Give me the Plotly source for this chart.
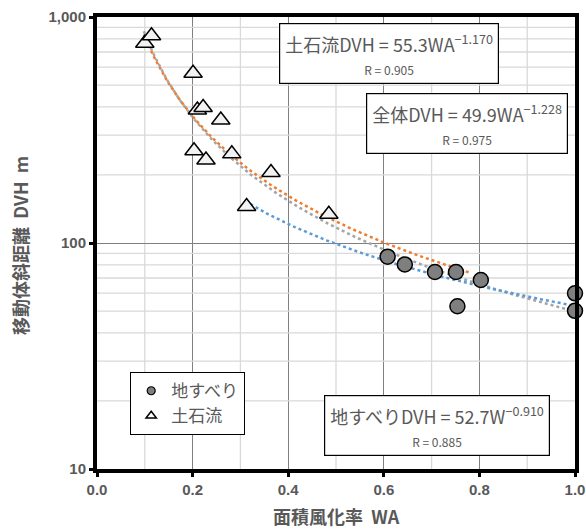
import numpy as np
import plotly.graph_objects as go

# ---- data ----
landslide_x = [0.608, 0.644, 0.707, 0.751, 0.803, 0.754, 1.0, 1.0]
landslide_y = [87.0, 80.4, 74.4, 74.4, 68.6, 52.5, 59.9, 50.1]

debris_x = [0.100, 0.114, 0.201, 0.210, 0.222, 0.259, 0.203, 0.228, 0.282, 0.364, 0.313, 0.485]
debris_y = [765, 826, 564, 388, 398, 350, 256, 233, 248, 205, 145, 134]

# trend line coefficients (from equations shown in chart): a, b, x_start, x_end
fit_debris = (55.3, -1.170, 0.098, 0.78)
fit_all = (49.9, -1.228, 0.098, 1.0)
fit_land = (52.7, -0.910, 0.31, 1.0)

x_ticks = [0.0, 0.2, 0.4, 0.6, 0.8, 1.0]
x_tick_labels = ["0.0", "0.2", "0.4", "0.6", "0.8", "1.0"]
x_minor = [0.1, 0.3, 0.5, 0.7, 0.9]
y_ticks = [10, 100, 1000]
y_tick_labels = ["10", "100", "1,000"]
y_minor = [m * d for d in (10, 100) for m in range(2, 10)]

TXT = "#595959"
FONT = "Liberation Sans, Arial, Noto Sans CJK JP"
JFONT = "Noto Sans CJK JP, Liberation Sans"

fig = go.Figure()

# minor grid (y, log) as a line trace
gx, gy = [], []
for v in y_minor:
    gx += [0, 1, None]
    gy += [v, v, None]
fig.add_trace(go.Scatter(x=gx, y=gy, mode="lines", line=dict(color="#D9D9D9", width=1.3),
                         showlegend=False, hoverinfo="skip"))
for v in x_minor:
    fig.add_shape(type="line", xref="x", yref="paper", x0=v, x1=v, y0=0, y1=1,
                  line=dict(color="#D9D9D9", width=1.3), layer="below")


def trend(c, color):
    a, b, x0, x1 = c
    xs = np.linspace(x0, x1, 200)
    fig.add_trace(go.Scatter(x=xs, y=a * xs ** b, mode="lines",
                             line=dict(color=color, width=2.5, dash="dot"),
                             showlegend=False, hoverinfo="skip"))


trend(fit_all, "#A5A5A5")
trend(fit_debris, "#ED7D31")
trend(fit_land, "#5B9BD5")

fig.add_trace(go.Scatter(x=landslide_x, y=landslide_y, mode="markers", name="地すべり",
                         marker=dict(symbol="circle", size=15, color="#7F7F7F",
                                     line=dict(color="black", width=1.5)),
                         cliponaxis=False, showlegend=False))
fig.add_trace(go.Scatter(x=debris_x, y=debris_y, mode="markers", name="土石流",
                         marker=dict(symbol="triangle-up", size=16, color="#F2F2F2",
                                     line=dict(color="black", width=1.5)),
                         cliponaxis=False, showlegend=False))

# legend entries
fig.add_trace(go.Scatter(x=[None], y=[None], mode="markers", name="地すべり",
                         marker=dict(symbol="circle", size=8, color="#7F7F7F",
                                     line=dict(color="black", width=1.2))))
fig.add_trace(go.Scatter(x=[None], y=[None], mode="markers", name="土石流",
                         marker=dict(symbol="triangle-up", size=9, color="white",
                                     line=dict(color="black", width=1.5))))


# paper coords: plot area spans 97..575 px (x) and 469..17 px (y) on screen
def px(xp):
    return (xp - 97) / 478


def py(yp):
    return (469 - yp) / 452


def eq_box(x, y, main, r):
    fig.add_annotation(
        x=x, y=y, xref="paper", yref="paper", xanchor="center", yanchor="middle",
        text=f"<span style='font-size:18px'>{main}</span><br><span style='font-size:12px'>{r}</span>",
        showarrow=False, align="center", bgcolor="white", bordercolor="black",
        borderwidth=1.2, borderpad=5, font=dict(family=JFONT, color=TXT, size=18))


eq_box(px(389), py(54), "土石流DVH = 55.3WA<sup>−1.170</sup>", "R = 0.905")
eq_box(px(467), py(123), "全体DVH = 49.9WA<sup>−1.228</sup>", "R = 0.975")
eq_box(px(437), py(425), "地すべりDVH = 52.7W<sup>−0.910</sup>", "R = 0.885")

# axis titles
fig.add_annotation(x=px(20), y=py(246), xref="paper", yref="paper", textangle=-90,
                   text="移動体斜距離  DVH  m", showarrow=False,
                   xanchor="center", yanchor="middle",
                   font=dict(family=JFONT, size=18, color=TXT, weight="bold"))
fig.add_annotation(x=px(336), y=py(516), xref="paper", yref="paper",
                   text="面積風化率  WA", showarrow=False,
                   xanchor="center", yanchor="middle",
                   font=dict(family=JFONT, size=18, color=TXT, weight="bold"))

fig.update_layout(
    width=586, height=531,
    margin=dict(l=97, r=11, t=17, b=62),
    paper_bgcolor="white", plot_bgcolor="white",
    font=dict(family=FONT, color=TXT),
    legend=dict(x=px(130), y=py(372), xanchor="left", yanchor="top",
                bgcolor="white", bordercolor="black", borderwidth=1.2,
                font=dict(family=JFONT, size=17, color=TXT),
                itemwidth=30, tracegroupgap=0),
    xaxis=dict(range=[0, 1], tickvals=x_ticks, ticktext=x_tick_labels,
               showline=True, linecolor="black", linewidth=4, mirror=True,
               ticks="outside", ticklen=4, tickwidth=3, tickcolor="black",
               showgrid=True, gridcolor="#808080", gridwidth=1.3,
               tickfont=dict(family=FONT, size=15, color=TXT, weight="bold"),
               automargin=False, zeroline=False),
    yaxis=dict(type="log", range=[1, 3], tickvals=y_ticks, ticktext=y_tick_labels,
               showline=True, linecolor="black", linewidth=4, mirror=True,
               ticks="outside", ticklen=4, tickwidth=3, tickcolor="black",
               showgrid=True, gridcolor="#808080", gridwidth=1.3,
               tickfont=dict(family=FONT, size=15, color=TXT, weight="bold"),
               automargin=False, zeroline=False),
)

# remove the page's default body margin so the figure fills the window exactly
fig.write_html("out.html", config={"displayModeBar": False},
               post_script="document.body.style.margin='0';document.body.style.overflow='hidden';")
